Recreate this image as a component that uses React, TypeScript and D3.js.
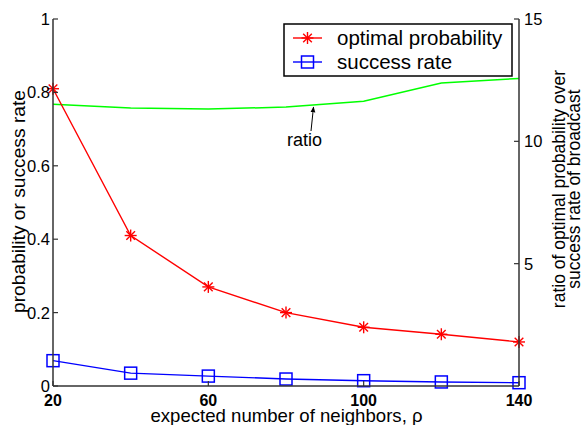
import React from "react";
import * as d3 from "d3";

const neighbors = [20, 40, 60, 80, 100, 120, 140];
const optimalProbability = [0.81, 0.41, 0.27, 0.2, 0.16, 0.141, 0.12];
const successRate = [0.069, 0.035, 0.027, 0.019, 0.0145, 0.011, 0.009];
const ratio = [11.52, 11.36, 11.32, 11.4, 11.64, 12.38, 12.57];
const xTicks = [20, 60, 100, 140];
const yLeftTicks = [0, 0.2, 0.4, 0.6, 0.8, 1];
const yRightTicks = [5, 10, 15];

const W = 582;
const H = 425;
const L = 53;
const R = 519;
const T = 19;
const B = 386;
const FONT = "'Liberation Sans', Arial, sans-serif";

export default function App() {
  const x = d3.scaleLinear().domain([20, 140]).range([L, R]);
  const yL = d3.scaleLinear().domain([0, 1]).range([B, T]);
  const yR = d3.scaleLinear().domain([0, 15]).range([B, T]);

  const lineOpt = d3
    .line<number>()
    .x((_, i) => x(neighbors[i]))
    .y((d) => yL(d))(optimalProbability) as string;
  const lineSucc = d3
    .line<number>()
    .x((_, i) => x(neighbors[i]))
    .y((d) => yL(d))(successRate) as string;
  const lineRatio = d3
    .line<number>()
    .x((_, i) => x(neighbors[i]))
    .y((d) => yR(d))(ratio) as string;

  const star = (cx: number, cy: number, r: number, key: string) => {
    const d = r * 0.72;
    return (
      <g key={key} stroke="#ff0000" strokeWidth={1.4}>
        <line x1={cx} y1={cy - r} x2={cx} y2={cy + r} />
        <line x1={cx - r} y1={cy} x2={cx + r} y2={cy} />
        <line x1={cx - d} y1={cy - d} x2={cx + d} y2={cy + d} />
        <line x1={cx - d} y1={cy + d} x2={cx + d} y2={cy - d} />
      </g>
    );
  };
  const square = (cx: number, cy: number, s: number, key: string) => (
    <rect
      key={key}
      x={cx - s / 2}
      y={cy - s / 2}
      width={s}
      height={s}
      fill="none"
      stroke="#0000ff"
      strokeWidth={1.5}
    />
  );

  const axisColor = "#333";

  return (
    <svg
      width={W}
      height={H}
      style={{ position: "absolute", left: 0, top: 0, background: "#fff" }}
      fontFamily={FONT}
    >
      <rect x={0} y={0} width={W} height={H} fill="#fff" />
      {/* data lines */}
      <path d={lineRatio} fill="none" stroke="#00ff00" strokeWidth={1.5} />
      <path d={lineOpt} fill="none" stroke="#ff0000" strokeWidth={1.4} />
      <path d={lineSucc} fill="none" stroke="#0000ff" strokeWidth={1.4} />
      {optimalProbability.map((v, i) => star(x(neighbors[i]), yL(v), 6, "s" + i))}
      {successRate.map((v, i) => square(x(neighbors[i]), yL(v), 12, "q" + i))}

      {/* axes */}
      <line x1={L} y1={T} x2={L} y2={B} stroke={axisColor} strokeWidth={1.5} />
      <line x1={R} y1={T} x2={R} y2={B} stroke={axisColor} strokeWidth={1.5} />
      <line x1={L} y1={B} x2={R} y2={B} stroke={axisColor} strokeWidth={1.5} />

      {xTicks.map((t) => (
        <g key={"xt" + t}>
          <line x1={x(t)} y1={B} x2={x(t)} y2={B - 5} stroke={axisColor} strokeWidth={1.2} />
          <text
            x={x(t)}
            y={405.5}
            textAnchor="middle"
            fontSize={16}
            fontWeight="bold"
            fill="#000"
          >
            {t}
          </text>
        </g>
      ))}
      {yLeftTicks.map((t) => (
        <g key={"yl" + t}>
          <line x1={L} y1={yL(t)} x2={L + 5} y2={yL(t)} stroke={axisColor} strokeWidth={1.2} />
          <text x={L - 3} y={yL(t) + 6} textAnchor="end" fontSize={16.5} fill="#000">
            {t === 0 ? "0" : t === 1 ? "1" : d3.format(".1f")(t)}
          </text>
        </g>
      ))}
      {yRightTicks.map((t) => (
        <g key={"yr" + t}>
          <line x1={R} y1={yR(t)} x2={R - 5} y2={yR(t)} stroke={axisColor} strokeWidth={1.2} />
          <text x={R + 5} y={yR(t) + 6} textAnchor="start" fontSize={16.5} fill="#000">
            {t}
          </text>
        </g>
      ))}

      {/* axis labels */}
      <text x={(L + R) / 2 + 0.5} y={421.5} textAnchor="middle" fontSize={18.6} fill="#000">
        expected number of neighbors, ρ
      </text>
      <text
        transform={`translate(25, 201.5) rotate(-90)`}
        textAnchor="middle"
        fontSize={19.2}
        fill="#000"
      >
        probability or success rate
      </text>
      <text
        transform={`translate(564.5, 189) rotate(-90)`}
        textAnchor="middle"
        fontSize={17.5}
        fill="#000"
      >
        ratio of optimal probability over
      </text>
      <text
        transform={`translate(579.5, 189) rotate(-90)`}
        textAnchor="middle"
        fontSize={17.5}
        fill="#000"
      >
        success rate of broadcast
      </text>

      {/* annotation */}
      <defs>
        <marker
          id="arrowhead"
          viewBox="0 0 10 10"
          refX={9}
          refY={5}
          markerWidth={6}
          markerHeight={6}
          orient="auto"
        >
          <path d="M0,1 L10,5 L0,9 z" fill="#000" />
        </marker>
      </defs>
      <line
        x1={311}
        y1={131}
        x2={313.5}
        y2={107}
        stroke="#000"
        strokeWidth={1}
        markerEnd="url(#arrowhead)"
      />
      <text x={304.5} y={146} textAnchor="middle" fontSize={18} fill="#000">
        ratio
      </text>

      {/* legend */}
      <rect x={284} y={24} width={228} height={52} fill="#fff" stroke="#000" strokeWidth={1.5} />
      <line x1={293} y1={38} x2={322} y2={38} stroke="#ff0000" strokeWidth={1.4} />
      {star(307.5, 38, 6, "ls")}
      <text x={337} y={45} fontSize={20.5} fill="#000">
        optimal probability
      </text>
      <line x1={293} y1={62} x2={322} y2={62} stroke="#0000ff" strokeWidth={1.4} />
      {square(307.5, 62, 12, "lq")}
      <text x={337} y={69} fontSize={20.5} fill="#000">
        success rate
      </text>
    </svg>
  );
}
